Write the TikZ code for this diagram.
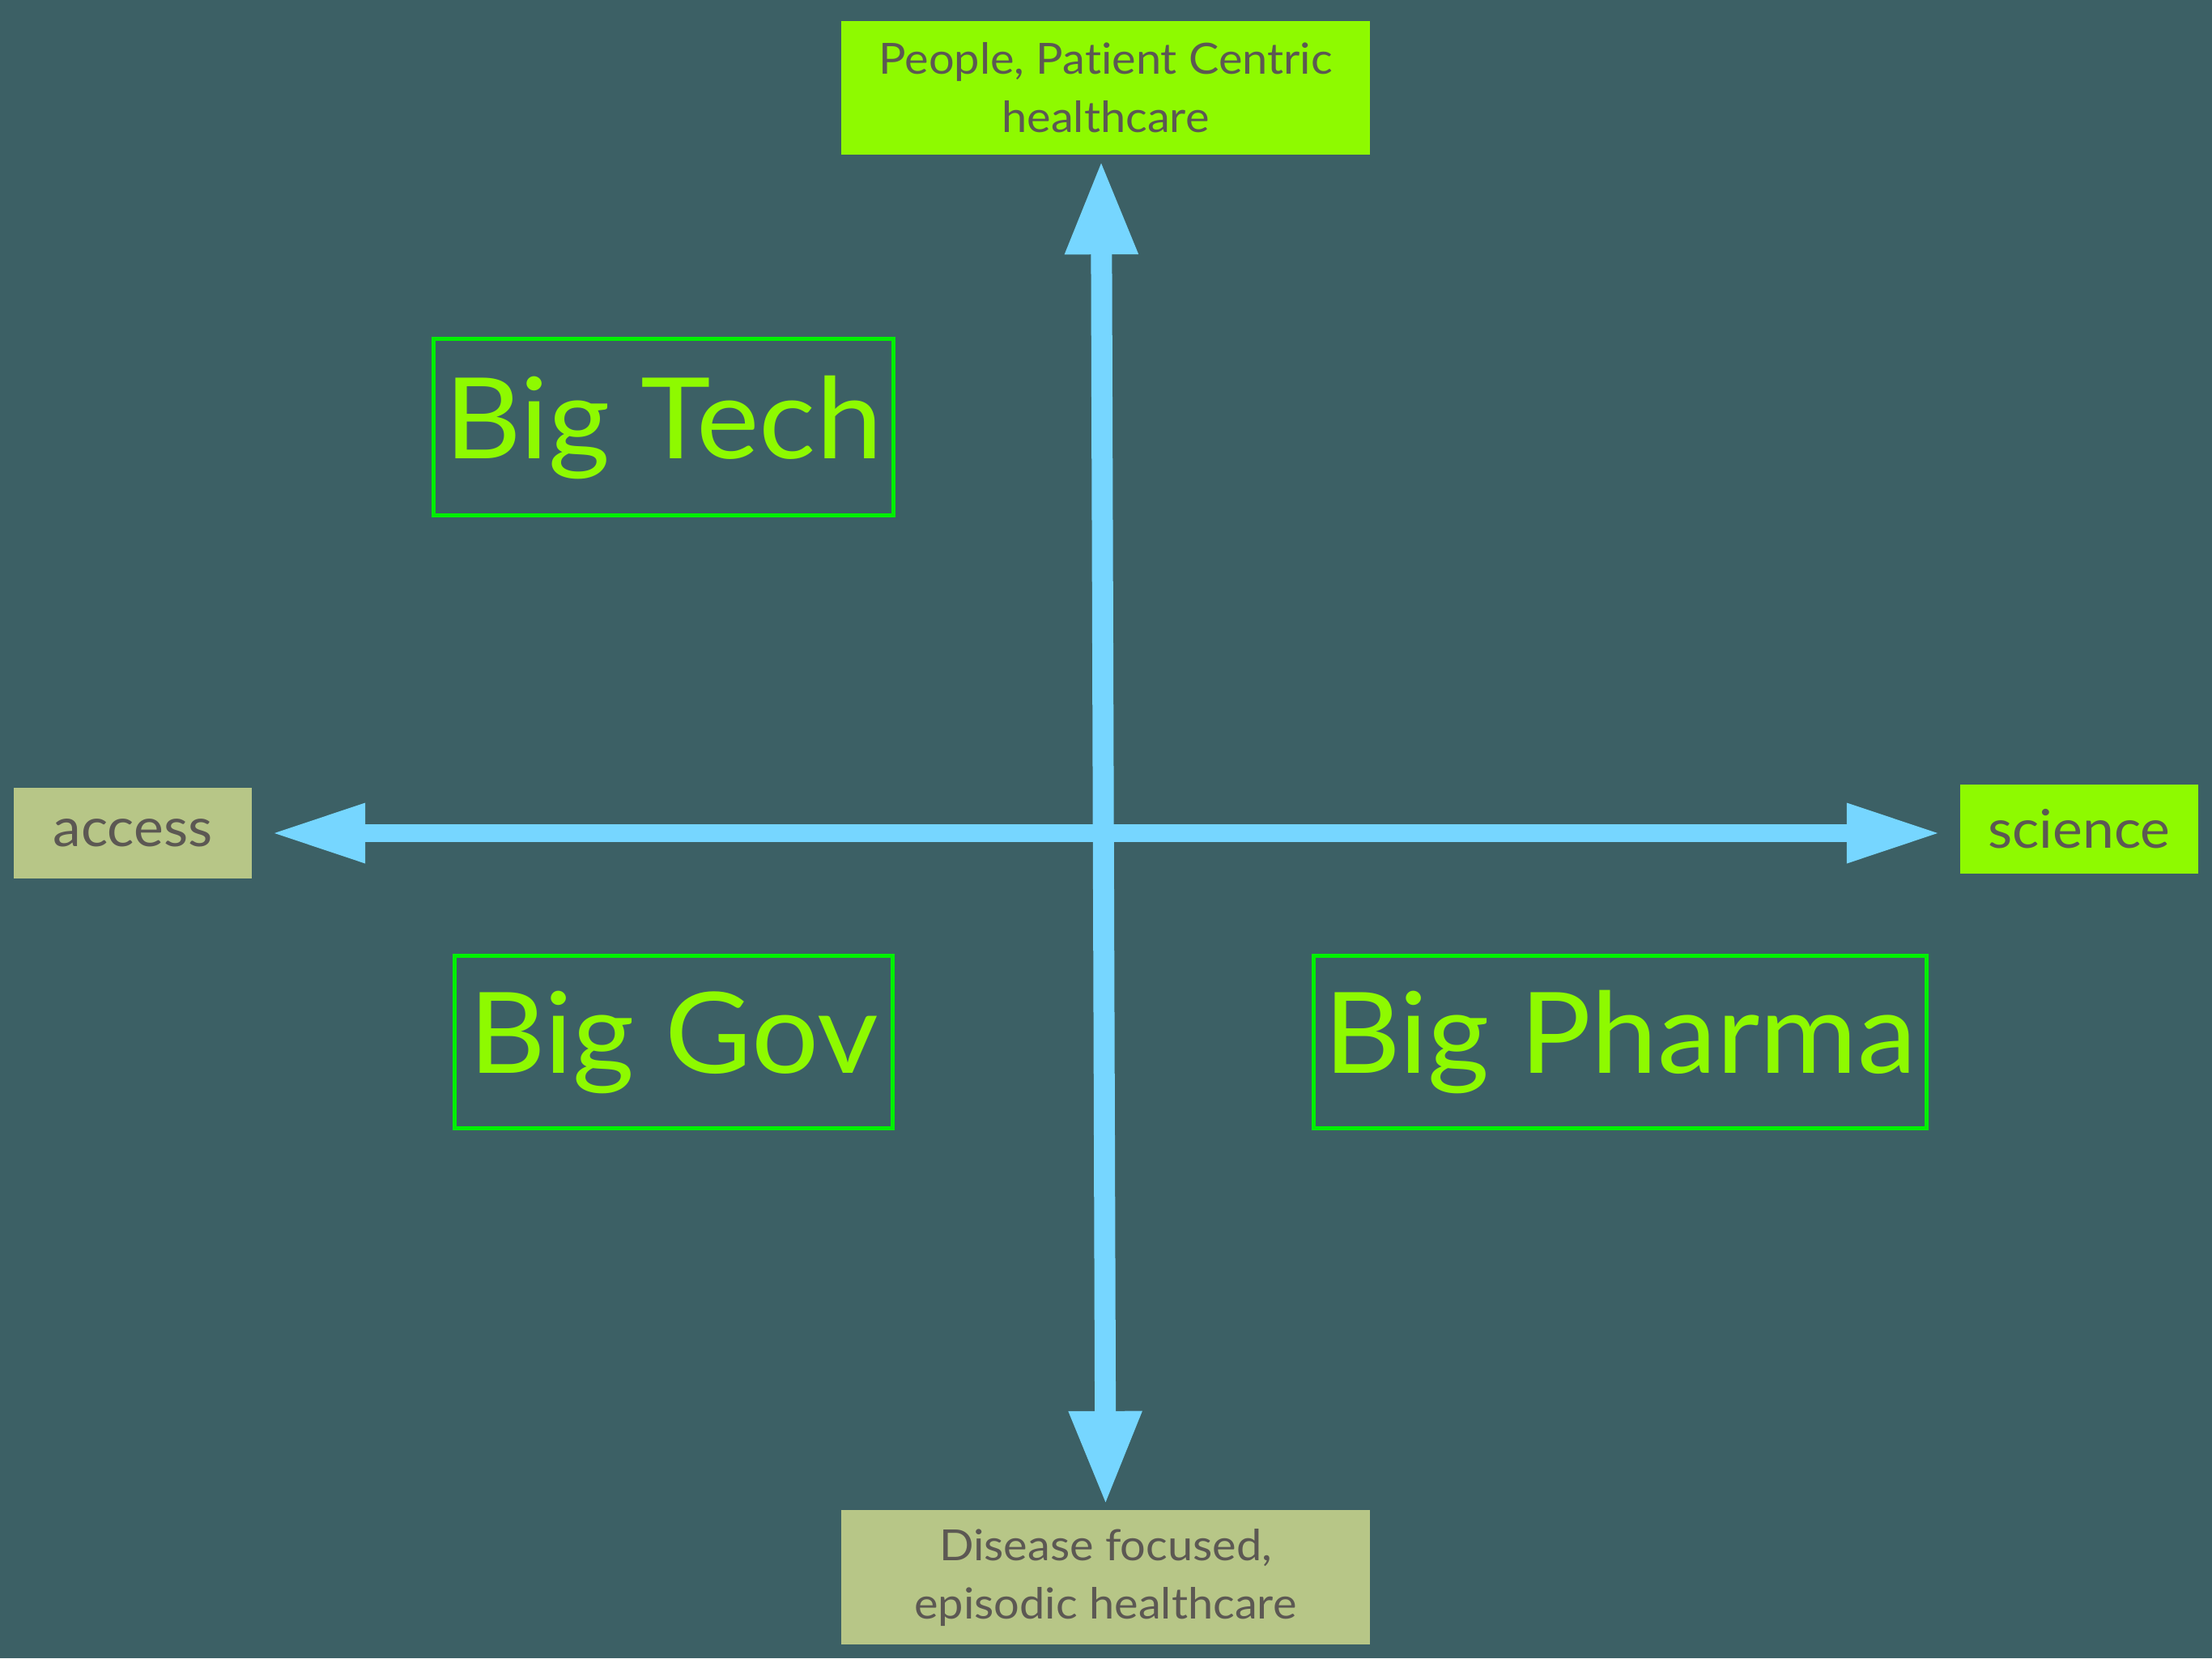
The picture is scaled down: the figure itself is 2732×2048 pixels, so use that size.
\documentclass[tikz,border=0pt]{standalone}
\usepackage{fontspec}
\setmainfont{Lato}[FakeStretch=1.055, Ligatures=NoCommon]
\usetikzlibrary{arrows.meta}
\definecolor{bgc}{HTML}{3C6065}
\definecolor{lime}{HTML}{8EFA00}
\definecolor{olive}{HTML}{B7C687}
\definecolor{txt}{HTML}{5C5853}
\definecolor{frame}{HTML}{00F000}
\definecolor{axis}{HTML}{76D6FF}
\tikzset{
  pole/.style={inner sep=0pt, text=txt, align=center},
  limebox/.style={pole, fill=lime},
  olivebox/.style={pole, fill=olive},
  bigbox/.style={draw=frame, line width=5pt, inner sep=0pt, text=lime,
    font=\fontsize{139}{160}\selectfont},
  smallfont/.style={font=\fontsize{53}{72}\selectfont},
  midfont/.style={font=\fontsize{66}{80}\selectfont},
  haxis/.style={draw=axis, line width=22pt, {Triangle[length=117pt,width=68pt]}-{Triangle[length=117pt,width=68pt]}},
  vaxis/.style={draw=axis, line width=26pt, {Triangle[length=117pt,width=83pt]}-{Triangle[length=117pt,width=83pt]}},
}
\begin{document}
\begin{tikzpicture}[x=1pt,y=-1pt]
\fill[bgc] (0,0) rectangle (2732,2048);
\useasboundingbox (0,0) rectangle (2732,2048);
\node[limebox, smallfont, minimum width=653pt, minimum height=165pt] (top) at (1365.5,108.5) {People, Patient Centric\\healthcare};
\node[olivebox, smallfont, minimum width=653pt, minimum height=166pt] (bottom) at (1365.5,1948) {Disease focused,\\episodic healthcare};
\node[olivebox, midfont, minimum width=294pt, minimum height=112pt] (access) at (164,1029) {access};
\node[limebox, midfont, minimum width=294pt, minimum height=110pt] (science) at (2568,1024) {science};
\node[bigbox, minimum width=568pt, minimum height=218pt] (tech) at (819.5,527.5) {Big Tech};
\node[bigbox, minimum width=541pt, minimum height=213pt] (gov) at (832,1287) {Big Gov};
\node[bigbox, minimum width=757pt, minimum height=213pt] (pharma) at (2001,1287) {Big Pharma};
\draw[haxis, shorten <=23pt, shorten >=23pt] (access.east) -- (access.east -| science.west);
\draw[vaxis, shorten <=6pt, shorten >=5pt] ([xshift=-5.5pt]top.south) -- (bottom.north);
\end{tikzpicture}
\end{document}
